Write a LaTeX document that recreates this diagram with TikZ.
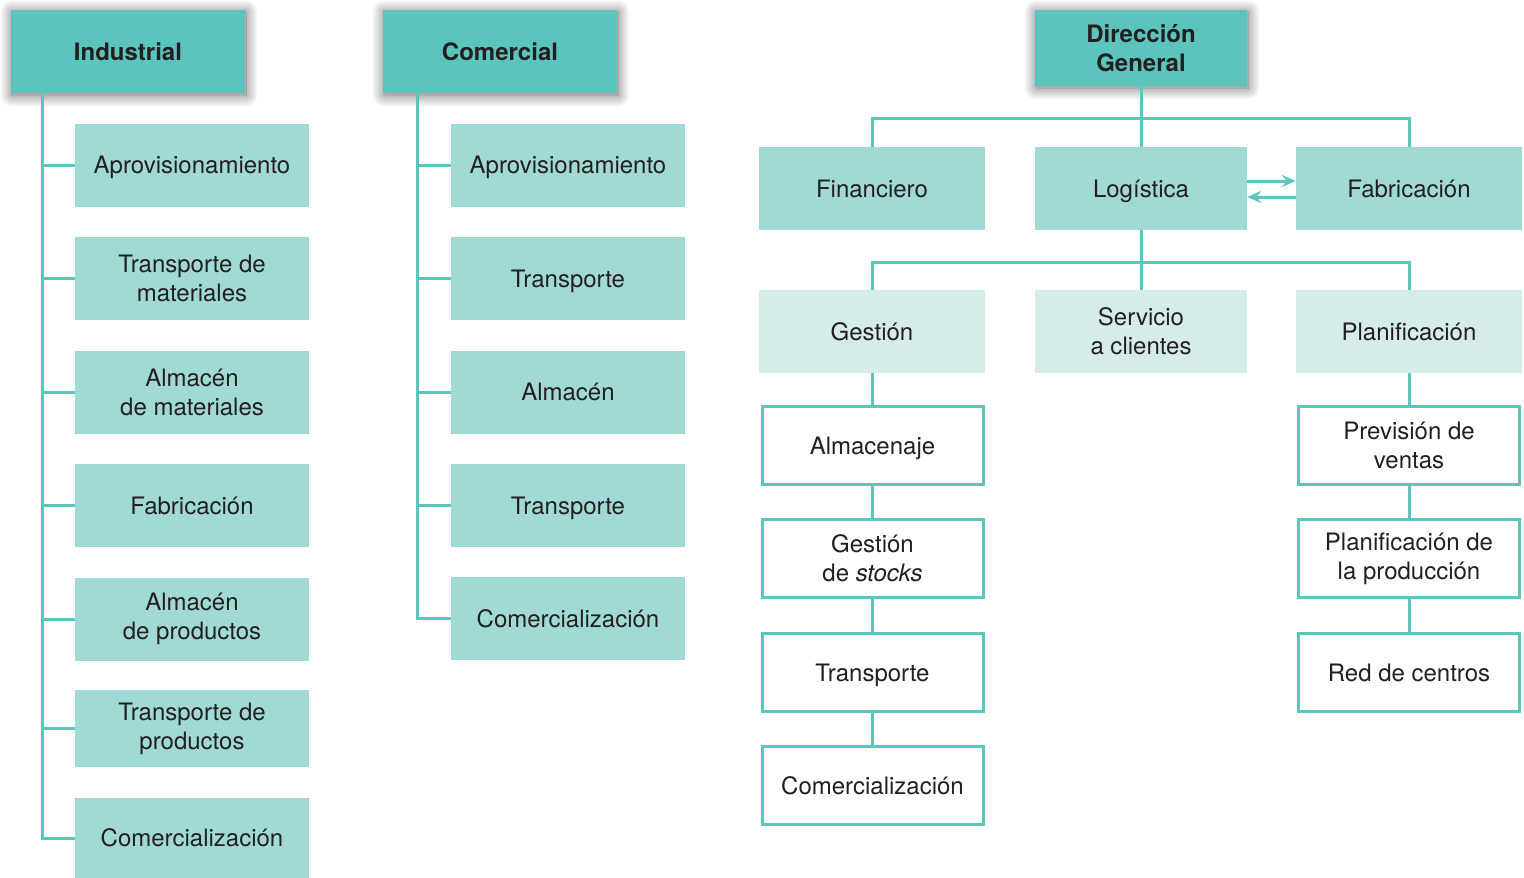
\documentclass[tikz,border=0pt]{standalone}
\usepackage{fontspec}
\setmainfont{TeX Gyre Heros}
\usetikzlibrary{arrows.meta,shadows.blur}
\definecolor{headc}{HTML}{5BC4BC}
\definecolor{midc}{HTML}{A1D9D5}
\definecolor{lightc}{HTML}{D6ECE9}
\definecolor{linec}{HTML}{5CC6BC}
\definecolor{txtc}{HTML}{231F20}
\tikzset{
  base/.style={inner sep=0pt, align=center, text=txtc, font=\fontsize{24}{29}\selectfont},
  one/.style={text height=17pt, text depth=0pt},
  head/.style={base, fill=headc, minimum width=234pt, minimum height=83pt, font=\fontsize{24}{29}\selectfont\bfseries,
     blur shadow={shadow xshift=1pt, shadow yshift=-2pt, shadow blur radius=12pt, shadow blur steps=25, shadow opacity=60}},
  mid/.style={base, fill=midc, minimum width=234pt, minimum height=83pt},
  light/.style={base, fill=lightc, minimum width=226pt, minimum height=83pt},
  wbox/.style={base, fill=white, draw=linec, line width=3pt, minimum width=221pt, minimum height=78pt},
  conn/.style={draw=linec, line width=3pt},
  arr/.style={conn, -{Stealth[length=14pt,width=12pt,inset=5pt]}}
}
\begin{document}
\begin{tikzpicture}[x=1pt,y=-1pt]
\useasboundingbox (0,0) rectangle (1524,878);
% Industrial column
\node[mid, one] (i1) at (192,165) {Aprovisionamiento};
\node[mid] (i2) at (192,278.5) {Transporte de\\materiales};
\node[mid] (i3) at (192,392) {Almacén\\de materiales};
\node[mid, one] (i4) at (192,505.5) {Fabricación};
\node[mid] (i5) at (192,619) {Almacén\\de productos};
\node[mid, minimum height=77pt] (i6) at (192,728.5) {Transporte de\\productos};
\node[mid, one, minimum height=81pt] (i7) at (192,838) {Comercialización};
\node[head, one] (ind) at (128,51.5) {Industrial};
\draw[conn] (ind.south west) ++(32,0) coordinate (ib) |- (i7.west);
\foreach \n in {i1,i2,i3,i4,i5,i6} \draw[conn] (\n.west) -- (\n.west -| ib);
% Comercial column
\node[mid, one] (c1) at (568,165) {Aprovisionamiento};
\node[mid, one] (c2) at (568,278.5) {Transporte};
\node[mid, one] (c3) at (568,392) {Almacén};
\node[mid, one] (c4) at (568,505.5) {Transporte};
\node[mid, one] (c5) at (568,618.5) {Comercialización};
\node[head, one] (com) at (500,51.5) {Comercial};
\draw[conn] (com.south west) ++(35,0) coordinate (cb) |- (c5.west);
\foreach \n in {c1,c2,c3,c4} \draw[conn] (\n.west) -- (\n.west -| cb);
% Org chart
\node[head, minimum width=212pt, minimum height=76pt] (dg) at (1141,48) {Dirección\\General};
\node[mid, one, minimum width=226pt] (fin) at (872,188.5) {Financiero};
\node[mid, one, minimum width=212pt] (log) at (1141,188.5) {Logística};
\node[mid, one, minimum width=226pt] (fab) at (1409,188.5) {Fabricación};
\coordinate (h1) at (1141,118);
\draw[conn] (dg.south) -- (h1);
\draw[conn] (fin.north) |- (h1) -| (fab.north);
\draw[conn] (h1) -- (log.north);
\draw[arr] ([yshift=7.5pt]log.east) -- ([yshift=7.5pt]fab.west);
\draw[arr] ([yshift=-8.5pt]fab.west) -- ([yshift=-8.5pt]log.east);
\node[light, one] (ges) at (872,331.5) {Gestión};
\node[light, minimum width=212pt] (ser) at (1141,331.5) {Servicio\\a clientes};
\node[light, one] (pla) at (1409,331.5) {Planificación};
\coordinate (h2) at (1141,262);
\draw[conn] (log.south) -- (h2);
\draw[conn] (ges.north) |- (h2) -| (pla.north);
\draw[conn] (h2) -- (ser.north);
% Gestion branch
\node[wbox, one] (g1) at (872.5,445.5) {Almacenaje};
\node[wbox] (g2) at (872.5,558.5) {Gestión\\de \textit{stocks}};
\node[wbox, one] (g3) at (872.5,672.5) {Transporte};
\node[wbox, one] (g4) at (872.5,785.5) {Comercialización};
\draw[conn] (ges.south) -- (ges.south |- g1.north);
\draw[conn] (g1.south) -- (g2.north);
\draw[conn] (g2.south) -- (g3.north);
\draw[conn] (g3.south) -- (g4.north);
% Planificacion branch
\node[wbox] (p1) at (1409,445.5) {Previsión de\\ventas};
\node[wbox] (p2) at (1409,558.5) {Planificación de\\la producción};
\node[wbox, one] (p3) at (1409,672.5) {Red de centros};
\draw[conn] (pla.south) -- (p1.north);
\draw[conn] (p1.south) -- (p2.north);
\draw[conn] (p2.south) -- (p3.north);
\end{tikzpicture}
\end{document}
